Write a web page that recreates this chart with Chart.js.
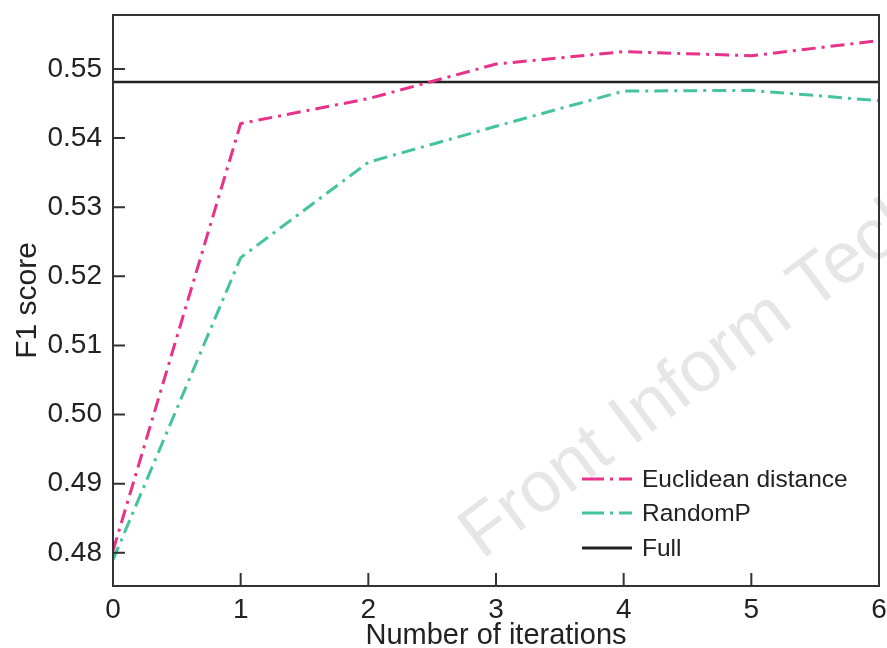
<!DOCTYPE html>
<html>
<head>
<meta charset="utf-8">
<script src="https://cdn.jsdelivr.net/npm/chart.js@4.4.1/dist/chart.umd.min.js"></script>
<style>
	html, body { margin: 0; padding: 0; background: #fff; }
	#wrap { position: relative; width: 887px; height: 648px; }
</style>
</head>
<body>
<div id="wrap"><canvas id="myChart" width="887" height="648"></canvas></div>
<script>
'use strict';

var iterations = [0, 1, 2, 3, 4, 5, 6];
var euclidean = [0.4803, 0.5421, 0.5457, 0.5507, 0.5525, 0.5519, 0.5541];
var randomP = [0.4790, 0.5227, 0.5365, 0.5417, 0.5468, 0.5469, 0.5454];
var fullScore = 0.5481;
var yTicks = [0.48, 0.49, 0.50, 0.51, 0.52, 0.53, 0.54, 0.55];
var xTicks = [0, 1, 2, 3, 4, 5, 6];
var seriesNames = ['Euclidean distance', 'RandomP', 'Full'];
var seriesColors = ['#e8318a', '#45c39d', '#222222'];

(function () {

	var fontFamily = "'Liberation Sans', Arial, sans-serif";
	var dashDot = [14, 6, 3, 6];

	var toPoints = function (values) {
		return iterations.map(function (x, i) { return {x: x, y: values[i]}; });
	};

	// frame, inward ticks, legend and watermark
	var decorations = {
		id: 'decorations',
		beforeDatasetsDraw: function (chart) {
			var ctx = chart.ctx;
			ctx.save();
			ctx.translate(482, 560);
			ctx.rotate(-37 * Math.PI / 180);
			ctx.font = '72px ' + fontFamily;
			ctx.fillStyle = '#e6e6e6';
			ctx.textBaseline = 'alphabetic';
			ctx.fillText('Front Inform Technol & Electron Eng', 0, 0);
			ctx.restore();
		},
		afterDraw: function (chart) {
			var ctx = chart.ctx;
			var a = chart.chartArea;
			var xs = chart.scales.x, ys = chart.scales.y;
			ctx.save();
			ctx.strokeStyle = '#333';
			ctx.lineWidth = 2;
			ctx.strokeRect(a.left, a.top, a.right - a.left, a.bottom - a.top);
			ctx.beginPath();
			yTicks.forEach(function (v) {
				var py = ys.getPixelForValue(v);
				ctx.moveTo(a.left, py);
				ctx.lineTo(a.left + 12, py);
			});
			xTicks.forEach(function (v) {
				if (v === 0 || v === 6) return;
				var px = xs.getPixelForValue(v);
				ctx.moveTo(px, a.bottom);
				ctx.lineTo(px, a.bottom - 13);
			});
			ctx.stroke();

			var rows = [479, 513, 548];
			ctx.font = '24.5px ' + fontFamily;
			ctx.textBaseline = 'middle';
			ctx.fillStyle = '#222';
			for (var i = 0; i < seriesNames.length; i++) {
				ctx.beginPath();
				ctx.strokeStyle = seriesColors[i];
				ctx.lineWidth = 3;
				ctx.setLineDash(i < 2 ? [22, 6, 3, 6] : []);
				ctx.moveTo(582, rows[i]);
				ctx.lineTo(632, rows[i]);
				ctx.stroke();
				ctx.fillText(seriesNames[i], 642, rows[i] + 1);
			}
			ctx.restore();
		}
	};

	var ctx = document.getElementById('myChart').getContext('2d');
	var myLineChart = new Chart(ctx, {
		type: 'line',
		data: {
			datasets: [{
				label: seriesNames[0],
				data: toPoints(euclidean),
				borderColor: seriesColors[0],
				borderWidth: 3,
				borderDash: dashDot,
				pointRadius: 0,
				tension: 0
			}, {
				label: seriesNames[1],
				data: toPoints(randomP),
				borderColor: seriesColors[1],
				borderWidth: 3,
				borderDash: dashDot,
				pointRadius: 0,
				tension: 0
			}, {
				label: seriesNames[2],
				data: [{x: iterations[0], y: fullScore}, {x: iterations[iterations.length - 1], y: fullScore}],
				borderColor: seriesColors[2],
				borderWidth: 2.5,
				pointRadius: 0
			}]
		},
		options: {
			responsive: false,
			animation: false,
			events: [],
			layout: {padding: {top: 15, right: 8, left: 0, bottom: 0}},
			plugins: {legend: {display: false}, tooltip: {enabled: false}},
			scales: {
				x: {
					type: 'linear',
					min: 0,
					max: 6,
					grid: {display: false, drawTicks: false},
					border: {display: false},
					afterFit: function (scale) {
						scale.height = 62;
						scale.paddingLeft = 0;
						scale.paddingRight = 0;
					},
					afterBuildTicks: function (scale) {
						scale.ticks = xTicks.map(function (v) { return {value: v}; });
					},
					ticks: {
						padding: 7,
						color: '#222',
						font: {family: fontFamily, size: 28},
						callback: function (v) { return String(v); }
					},
					title: {
						display: true,
						text: 'Number of iterations',
						color: '#222',
						font: {family: fontFamily, size: 29, lineHeight: 1},
						padding: {top: 0, bottom: -2}
					}
				},
				y: {
					type: 'linear',
					min: 0.4752,
					max: 0.5578,
					grid: {display: false, drawTicks: false},
					border: {display: false},
					afterFit: function (scale) {
						scale.width = 113;
						scale.paddingTop = 0;
						scale.paddingBottom = 0;
					},
					afterBuildTicks: function (scale) {
						scale.ticks = yTicks.map(function (v) { return {value: v}; });
					},
					ticks: {
						padding: 11,
						color: '#222',
						font: {family: fontFamily, size: 28},
						callback: function (v) { return v.toFixed(2); }
					},
					title: {
						display: true,
						text: 'F1 score',
						color: '#222',
						font: {family: fontFamily, size: 30, lineHeight: 1},
						padding: {top: 13, bottom: 0}
					}
				}
			}
		},
		plugins: [decorations]
	});
})();
</script>
</body>
</html>
